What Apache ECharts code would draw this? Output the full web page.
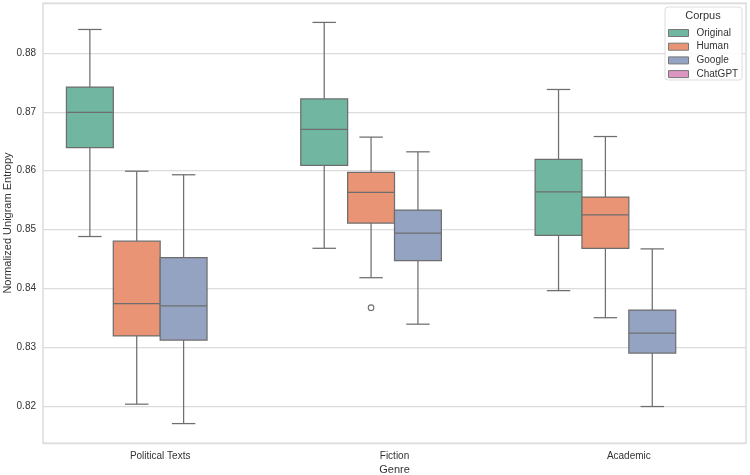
<!DOCTYPE html>
<html><head><meta charset="utf-8">
<script src="https://cdn.jsdelivr.net/npm/echarts@6/dist/echarts.min.js"></script>
<style>html,body{margin:0;padding:0;background:#fff}#c{width:750px;height:475px}</style>
</head><body><div id="c"></div>
<script>
const categories = ['Political Texts', 'Fiction', 'Academic'];
const corpora = ['Original', 'Human', 'Google', 'ChatGPT'];
// [low whisker, Q1, median, Q3, high whisker] per category
const originalStats = [[0.8488, 0.8639, 0.8699, 0.8742, 0.8840], [0.8468, 0.8609, 0.8670, 0.8722, 0.8852], [0.8396, 0.8490, 0.8564, 0.8619, 0.8738]];
const humanStats = [[0.8203, 0.8319, 0.8374, 0.8480, 0.8599], [0.8418, 0.8511, 0.8563, 0.8597, 0.8657], [0.8350, 0.8468, 0.8525, 0.8555, 0.8658]];
const googleStats = [[0.8170, 0.8312, 0.8370, 0.8452, 0.8593], [0.8339, 0.8447, 0.8494, 0.8533, 0.8632], [0.8199, 0.8290, 0.8324, 0.8363, 0.8467]];
const chatgptStats = [];
// outliers: [category index, corpus index, value]
const outliers = [[1, 1, 0.8367]];
const yTicks = [0.82, 0.83, 0.84, 0.85, 0.86, 0.87, 0.88];

const colors = ['#71b6a0', '#e99575', '#95a3c3', '#dc96c1'];
const lineColor = '#6e6e6e';
const FONT = "'Liberation Sans', Arial, sans-serif";

function boxRender(k) {
  return function (params, api) {
    const cat = api.value(0);
    const bw = api.size([1, 0])[0];
    const slot = bw * 0.8 / 4;
    const cx = api.coord([cat, 0])[0] - 0.4 * bw + (k + 0.5) * slot;
    const yLow = api.coord([cat, api.value(1)])[1];
    const yQ1 = api.coord([cat, api.value(2)])[1];
    const yMed = api.coord([cat, api.value(3)])[1];
    const yQ3 = api.coord([cat, api.value(4)])[1];
    const yHigh = api.coord([cat, api.value(5)])[1];
    const half = slot / 2, cap = slot / 4;
    const ls = { stroke: lineColor, lineWidth: 1.25 };
    return {
      type: 'group',
      children: [
        { type: 'line', shape: { x1: cx, y1: yQ3, x2: cx, y2: yHigh }, style: ls },
        { type: 'line', shape: { x1: cx, y1: yQ1, x2: cx, y2: yLow }, style: ls },
        { type: 'line', shape: { x1: cx - cap, y1: yHigh, x2: cx + cap, y2: yHigh }, style: ls },
        { type: 'line', shape: { x1: cx - cap, y1: yLow, x2: cx + cap, y2: yLow }, style: ls },
        { type: 'rect', shape: { x: cx - half, y: yQ3, width: slot, height: yQ1 - yQ3 }, style: { fill: colors[k], stroke: lineColor, lineWidth: 1.25 } },
        { type: 'line', shape: { x1: cx - half, y1: yMed, x2: cx + half, y2: yMed }, style: ls }
      ]
    };
  };
}

function toData(stats) { return stats.map((s, i) => [i].concat(s)); }
const statsList = [originalStats, humanStats, googleStats, chatgptStats];

const series = corpora.map((name, k) => ({
  name: name,
  type: 'custom',
  renderItem: boxRender(k),
  itemStyle: { color: colors[k] },
  encode: { x: 0, y: [1, 2, 3, 4, 5] },
  data: toData(statsList[k]),
  silent: true,
  z: 2
}));
series.push({
  name: 'outliers',
  type: 'custom',
  renderItem: function (params, api) {
    const cat = api.value(0), k = api.value(1);
    const bw = api.size([1, 0])[0];
    const slot = bw * 0.8 / 4;
    const cx = api.coord([cat, 0])[0] - 0.4 * bw + (k + 0.5) * slot;
    const y = api.coord([cat, api.value(2)])[1];
    return { type: 'circle', shape: { cx: cx, cy: y, r: 2.8 }, style: { fill: '#fff', stroke: lineColor, lineWidth: 1.1 } };
  },
  encode: { x: 0, y: 2 },
  data: outliers,
  silent: true,
  z: 3
});

const chart = echarts.init(document.getElementById('c'), null, { renderer: 'canvas' });
chart.setOption({
  animation: false,
  backgroundColor: '#fff',
  grid: { left: 43, right: 4, top: 3, bottom: 32, containLabel: false, outerBoundsMode: 'none', show: true, borderColor: '#d6d6d6', borderWidth: 1.25, backgroundColor: 'transparent' },
  xAxis: {
    type: 'category',
    data: categories,
    axisLine: { show: false },
    axisTick: { show: false },
    axisLabel: { color: '#333', fontSize: 10, fontFamily: FONT, margin: 8 },
    name: 'Genre',
    nameLocation: 'middle',
    nameGap: 21,
    nameMoveOverlap: false,
    nameTextStyle: { color: '#333', fontSize: 11, fontFamily: FONT }
  },
  yAxis: {
    type: 'value',
    min: 0.8137,
    max: 0.8885,
    splitNumber: 7,
    minInterval: 0.01,
    maxInterval: 0.01,
    axisLine: { show: false },
    axisTick: { show: false },
    axisLabel: {
      color: '#333', fontSize: 10, fontFamily: FONT, margin: 7,
      formatter: function (v) {
        const t = yTicks.find(x => Math.abs(x - v) < 1e-6);
        return t === undefined ? '' : t.toFixed(2);
      }
    },
    splitLine: { lineStyle: { color: '#dcdcdc', width: 1.25 } },
    name: 'Normalized Unigram Entropy',
    nameLocation: 'middle',
    nameGap: 30,
    nameMoveOverlap: false,
    nameTextStyle: { color: '#333', fontSize: 11, fontFamily: FONT }
  },
  legend: {
    data: corpora,
    orient: 'vertical',
    left: 668,
    top: 27,
    itemWidth: 20,
    itemHeight: 7,
    itemGap: 1.7,
    icon: 'rect',
    itemStyle: { borderColor: '#777', borderWidth: 1 },
    textStyle: { color: '#333', fontSize: 10, lineHeight: 12, fontFamily: FONT, padding: [0, 0, 0, 3] },
    padding: 0,
    z: 10,
    selectedMode: false
  },
  graphic: [
    { type: 'rect', z: 8, shape: { x: 665, y: 7, width: 77, height: 73, r: 3 }, style: { fill: 'rgba(255,255,255,0.85)', stroke: '#dddddd', lineWidth: 1 } },
    { type: 'text', z: 9, x: 703, y: 16, style: { text: 'Corpus', fill: '#333', fontSize: 11, fontFamily: FONT, textAlign: 'center', textVerticalAlign: 'middle' } }
  ],
  series: series
});
</script></body></html>
